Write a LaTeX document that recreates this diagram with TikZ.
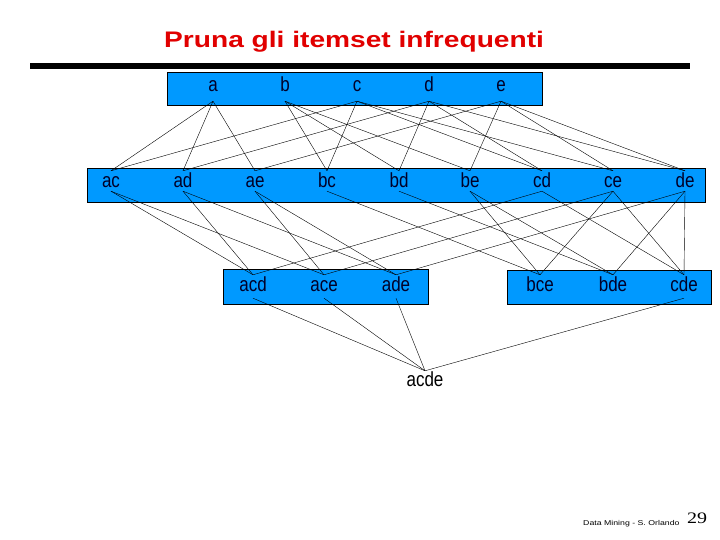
\documentclass[tikz,border=0pt]{standalone}
\usepackage{graphicx}
\usepackage{fontspec}
\setmainfont{Liberation Sans}
\newfontfamily\serifnum{Liberation Serif}

\definecolor{bandblue}{RGB}{0,153,255}
\definecolor{titlered}{RGB}{225,0,0}
\definecolor{labink}{RGB}{0,0,40}

% labels of the slide are stretched a little
\newcommand{\tall}[1]{\scalebox{1}[1.2]{#1}}
\newcommand{\wide}[1]{\scalebox{1.25}[1]{#1}}

\tikzset{
  band/.style={draw=black, fill=bandblue, line width=0.7pt},
  lab/.style={font=\fontsize{17}{17}\selectfont, text=labink, inner sep=0pt, anchor=base},
  lvlone/.style={lab, text height=0pt, text depth=9pt},
  lvltwo/.style={lab, text height=17pt, text depth=3pt},
  lvlthree/.style={lab, text height=16pt, text depth=7pt},
  lvlfour/.style={lab, text=black, text height=15pt, text depth=0pt},
  edge/.style={line width=0.4pt, black}
}

\begin{document}
\begin{tikzpicture}[x=1pt, y=-1pt]
        \useasboundingbox [fill=white] (0,0) rectangle (720,540);
        %
        \node [anchor=base west, text=titlered, inner sep=0pt,
               font=\fontsize{22.5}{22.5}\selectfont\bfseries] (title) at (164,48) {\wide{Pruna gli itemset infrequenti}};
        \fill [black] (30,63) rectangle (690,69);
        %
        \draw [band] (167,72) rectangle (542,105);
        \draw [band] (87,168) rectangle (705,202);
        \draw [band] (223,269) rectangle (428,304);
        \draw [band] (507,270) rectangle (711,304);
        %
        \node [lvlone] (a) at (213,92) {\tall{a}};
        \node [lvlone] (b) at (285,92) {\tall{b}};
        \node [lvlone] (c) at (357,92) {\tall{c}};
        \node [lvlone] (d) at (429,92) {\tall{d}};
        \node [lvlone] (e) at (501,92) {\tall{e}};
        %
        \node [lvltwo] (ac) at (111,188) {\tall{ac}};
        \node [lvltwo] (ad) at (183,188) {\tall{ad}};
        \node [lvltwo] (ae) at (255,188) {\tall{ae}};
        \node [lvltwo] (bc) at (327,188) {\tall{bc}};
        \node [lvltwo] (bd) at (399,188) {\tall{bd}};
        \node [lvltwo] (be) at (470,188) {\tall{be}};
        \node [lvltwo] (cd) at (542,188) {\tall{cd}};
        \node [lvltwo] (ce) at (613,188) {\tall{ce}};
        \node [lvltwo] (de) at (685,188) {\tall{de}};
        %
        \node [lvlthree] (acd) at (253,291) {\tall{acd}};
        \node [lvlthree] (ace) at (324,291) {\tall{ace}};
        \node [lvlthree] (ade) at (396,291) {\tall{ade}};
        \node [lvlthree] (bce) at (540,291) {\tall{bce}};
        \node [lvlthree] (bde) at (613,291) {\tall{bde}};
        \node [lvlthree] (cde) at (684,291) {\tall{cde}};
        %
        \node [lvlfour] (acde) at (425,386) {\tall{acde}};
        %
        \draw [edge] (a.south) -- (ac.north);
        \draw [edge] (a.south) -- (ad.north);
        \draw [edge] (a.south) -- (ae.north);
        \draw [edge] (b.south) -- (bc.north);
        \draw [edge] (b.south) -- (bd.north);
        \draw [edge] (b.south) -- (be.north);
        \draw [edge] (c.south) -- (ac.north);
        \draw [edge] (c.south) -- (bc.north);
        \draw [edge] (c.south) -- (cd.north);
        \draw [edge] (c.south) -- (ce.north);
        \draw [edge] (d.south) -- (ad.north);
        \draw [edge] (d.south) -- (bd.north);
        \draw [edge] (d.south) -- (cd.north);
        \draw [edge] (d.south) -- (de.north);
        \draw [edge] (e.south) -- (ae.north);
        \draw [edge] (e.south) -- (be.north);
        \draw [edge] (e.south) -- (ce.north);
        \draw [edge] (e.south) -- (de.north);
        %
        \draw [edge] (ac.south) -- (acd.north);
        \draw [edge] (ad.south) -- (acd.north);
        \draw [edge] (cd.south) -- (acd.north);
        \draw [edge] (ac.south) -- (ace.north);
        \draw [edge] (ae.south) -- (ace.north);
        \draw [edge] (ce.south) -- (ace.north);
        \draw [edge] (ad.south) -- (ade.north);
        \draw [edge] (ae.south) -- (ade.north);
        \draw [edge] (de.south) -- (ade.north);
        \draw [edge] (bc.south) -- (bce.north);
        \draw [edge] (be.south) -- (bce.north);
        \draw [edge] (ce.south) -- (bce.north);
        \draw [edge] (bd.south) -- (bde.north);
        \draw [edge] (be.south) -- (bde.north);
        \draw [edge] (de.south) -- (bde.north);
        \draw [edge] (cd.south) -- (cde.north);
        \draw [edge] (ce.south) -- (cde.north);
        \draw [edge] (de.south) -- (cde.north);
        %
        \draw [edge] (acd.south) -- (acde.north);
        \draw [edge] (ace.south) -- (acde.north);
        \draw [edge] (ade.south) -- (acde.north);
        \draw [edge] (cde.south) -- (acde.north);
        %
        \node [anchor=base west, inner sep=0pt, font=\fontsize{7}{7}\selectfont] (credit) at (583,525) {\wide{Data Mining - S. Orlando}};
        \node [anchor=base west, inner sep=0pt, font=\fontsize{16}{16}\serifnum] (page) at (687,523) {\wide{29}};
\end{tikzpicture}
\end{document}
